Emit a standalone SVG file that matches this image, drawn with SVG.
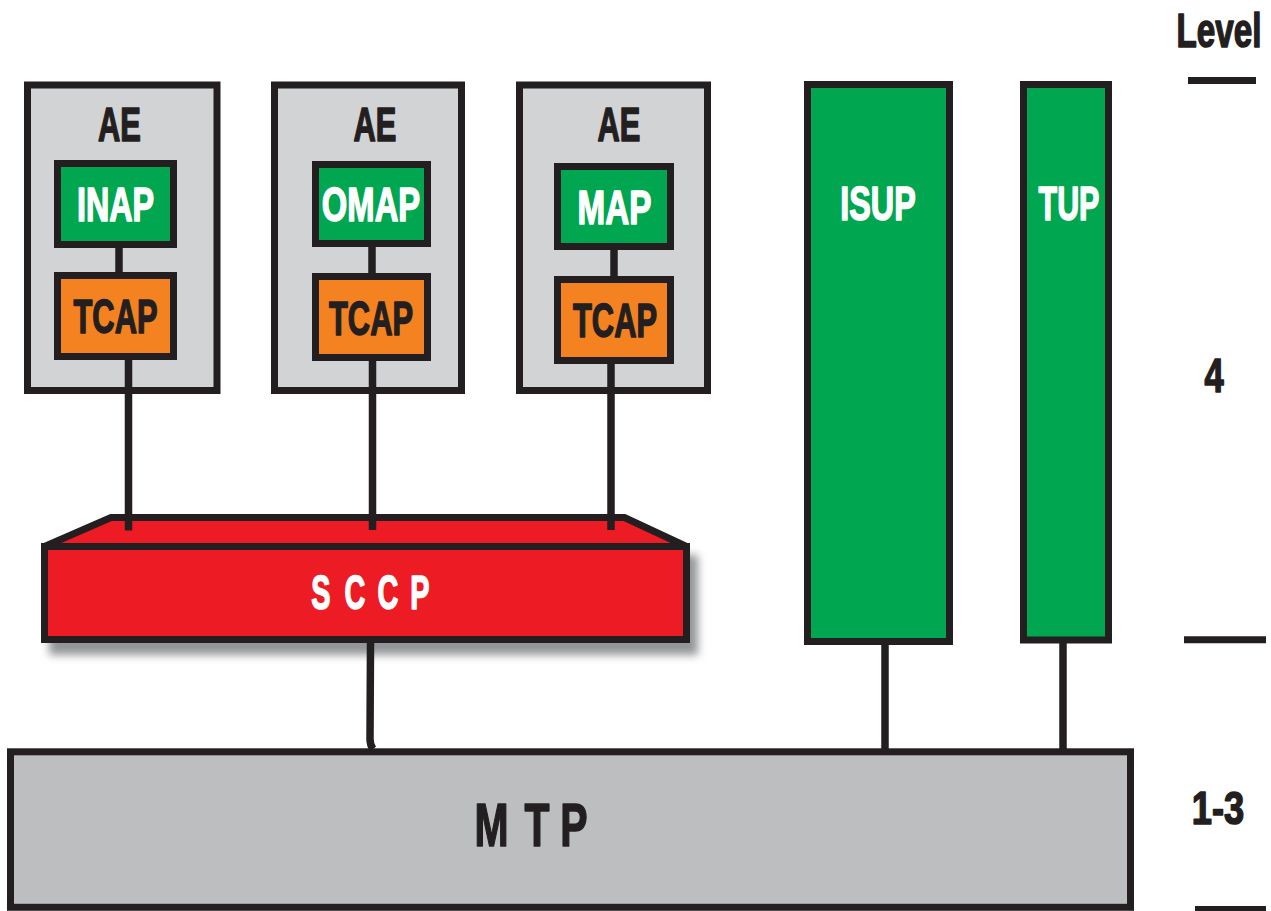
<svg xmlns="http://www.w3.org/2000/svg" width="1271" height="911" viewBox="0 0 1271 911">
<defs>
<filter id="shadow" x="-10%" y="-20%" width="120%" height="140%">
<feGaussianBlur stdDeviation="4"/>
</filter>
</defs>
<style>
.box{stroke:#231f20;stroke-width:7;stroke-linejoin:miter}
.ae{fill:#d1d3d4}
.green{fill:#00a650}
.orange{fill:#f58220}
.red{fill:#ed1c24}
.gray{fill:#bcbec0}
.t{font-family:"Liberation Sans",Arial,sans-serif;font-weight:bold;text-anchor:middle;stroke-width:1.6;stroke-linejoin:round}
.w{fill:#ffffff;stroke:#ffffff}
.k{fill:#231f20;stroke:#231f20}
.line{stroke:#231f20;stroke-width:7.5;fill:none}
.lvl{stroke:#231f20;stroke-width:7;fill:none}
</style>
<rect width="1271" height="911" fill="#ffffff"/>

<g id="ae1">
<rect class="box ae" x="27.5" y="85" width="189.5" height="305.5"/>
<text class="t k" font-size="47.5" transform="translate(119.5,141) scale(0.65,1)">AE</text>
</g>
<g id="inap">
<rect class="box green" x="57.5" y="163.5" width="116" height="81"/>
<text class="t w" font-size="47.5" transform="translate(115.5,221) scale(0.68,1)">INAP</text>
</g>
<g id="tcap1">
<rect class="box orange" x="57.5" y="275.5" width="116" height="81"/>
<text class="t k" font-size="47.5" transform="translate(115.5,333) scale(0.65,1)">TCAP</text>
</g>

<g id="ae2">
<rect class="box ae" x="274.5" y="85" width="187" height="305.5"/>
<text class="t k" font-size="47.5" transform="translate(375,141) scale(0.65,1)">AE</text>
</g>
<g id="omap">
<rect class="box green" x="315.5" y="164.5" width="112" height="79"/>
<text class="t w" font-size="47.5" transform="translate(371,221) scale(0.69,1)">OMAP</text>
</g>
<g id="tcap2">
<rect class="box orange" x="315.5" y="276.5" width="112" height="81"/>
<text class="t k" font-size="47.5" transform="translate(371,335) scale(0.65,1)">TCAP</text>
</g>

<g id="ae3">
<rect class="box ae" x="519.5" y="85" width="188" height="305.5"/>
<text class="t k" font-size="47.5" transform="translate(619,141) scale(0.65,1)">AE</text>
</g>
<g id="map">
<rect class="box green" x="557.5" y="166.5" width="113" height="80"/>
<text class="t w" font-size="47.5" transform="translate(614.5,224) scale(0.70,1)">MAP</text>
</g>
<g id="tcap3">
<rect class="box orange" x="557.5" y="279.5" width="113" height="81"/>
<text class="t k" font-size="47.5" transform="translate(615,337) scale(0.65,1)">TCAP</text>
</g>

<g id="isup">
<rect class="box green" x="807.5" y="84.5" width="142" height="557"/>
<text class="t w" font-size="47.5" transform="translate(878,220) scale(0.68,1)">ISUP</text>
</g>
<g id="tup">
<rect class="box green" x="1023.5" y="84.5" width="85" height="555.5"/>
<text class="t w" font-size="47.5" transform="translate(1069,220) scale(0.64,1)">TUP</text>
</g>

<g id="sccp">
<rect x="49" y="555" width="649" height="100" fill="#939598" filter="url(#shadow)"/>
<polygon class="box red" points="44.5,546.5 111,517.5 624.5,517.5 686.5,546.5"/>
<rect class="box red" x="44.5" y="546.5" width="642" height="93"/>
<text class="t w" font-size="48" transform="translate(370,609) scale(0.6,1)" x="-82 -25 30 83">SCCP</text>
</g>

<g id="mtp">
<rect class="box gray" x="10.5" y="751.8" width="1120" height="155.5"/>
<text class="t k" font-size="62" transform="translate(533,846) scale(0.66,1)" x="-63 6 62">MTP</text>
</g>

<g id="connectors">
<line class="line" x1="119" y1="244" x2="119" y2="276"/>
<line class="line" x1="372" y1="243" x2="372" y2="277"/>
<line class="line" x1="614" y1="246" x2="614" y2="280"/>
<line class="line" x1="128.5" y1="360" x2="128.5" y2="530.5"/>
<line class="line" x1="372.5" y1="361" x2="372.5" y2="530"/>
<line class="line" x1="611" y1="364" x2="611" y2="530"/>
<path class="line" d="M370.5 643 L370 739 Q370 745 373 749"/>
<line class="line" x1="885" y1="645" x2="885" y2="749"/>
<line class="line" x1="1063" y1="643" x2="1063" y2="749"/>
</g>

<g id="levels">
<text class="t k" font-size="47.5" transform="translate(1219,47) scale(0.70,1)">Level</text>
<line class="lvl" x1="1188" y1="80.5" x2="1256" y2="80.5"/>
<text class="t k" font-size="48" transform="translate(1214,392) scale(0.72,1)">4</text>
<line class="lvl" x1="1184" y1="639.7" x2="1266" y2="639.7"/>
<text class="t k" font-size="46.5" transform="translate(1218,824) scale(0.78,1)">1-3</text>
<line class="lvl" x1="1195" y1="909.5" x2="1266" y2="909.5"/>
</g>
</svg>
